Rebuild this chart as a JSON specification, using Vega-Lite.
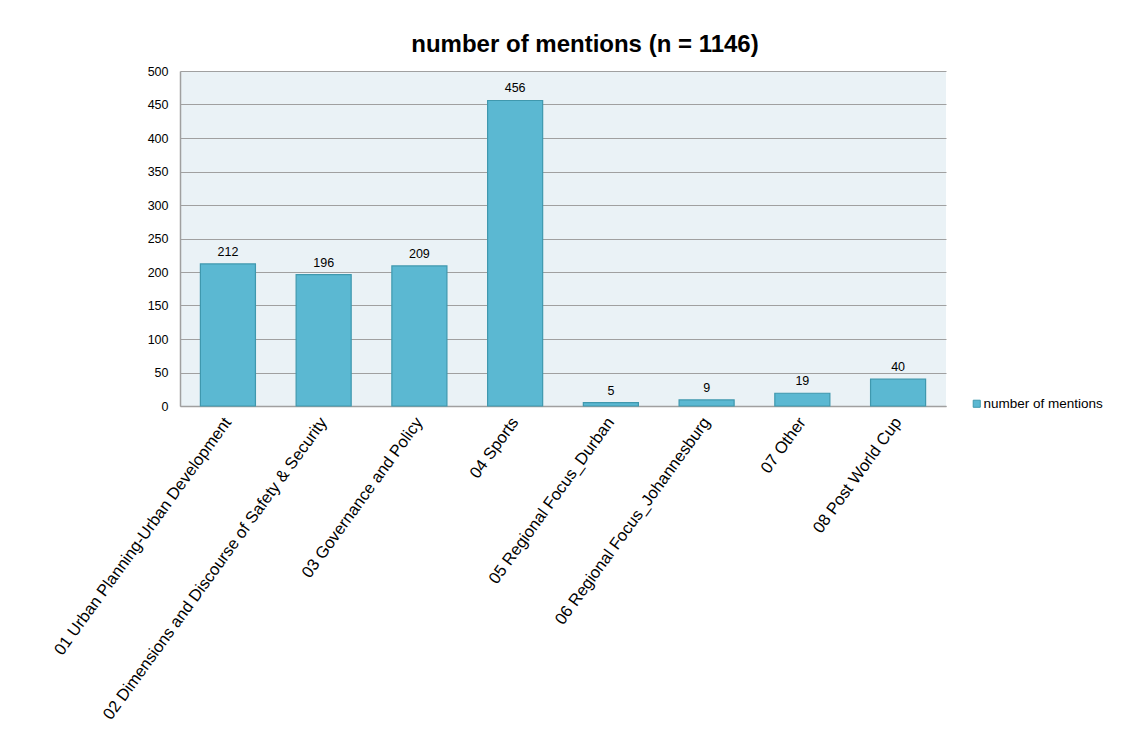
{
  "$schema": "https://vega.github.io/schema/vega-lite/v6.json",
  "autosize": {"type": "none"},
  "padding": {"left": 180, "top": 71, "right": 188, "bottom": 329},
  "width": 766,
  "height": 335,
  "background": "white",
  "title": {
    "text": "number of mentions (n = 1146)",
    "font": "Liberation Sans",
    "fontSize": 24,
    "fontWeight": "bold",
    "color": "#000000",
    "anchor": "middle",
    "dx": 22,
    "offset": 8
  },
  "data": {
    "values": [
      {"category": "01 Urban Planning-Urban Development", "mentions": 212},
      {"category": "02 Dimensions and Discourse of Safety & Security", "mentions": 196},
      {"category": "03 Governance and Policy", "mentions": 209},
      {"category": "04 Sports", "mentions": 456},
      {"category": "05 Regional Focus_Durban", "mentions": 5},
      {"category": "06 Regional Focus_Johannesburg", "mentions": 9},
      {"category": "07 Other", "mentions": 19},
      {"category": "08 Post World Cup", "mentions": 40}
    ]
  },
  "encoding": {
    "x": {
      "field": "category",
      "type": "nominal",
      "sort": null,
      "scale": {"paddingInner": 0.425, "paddingOuter": 0.213},
      "axis": {
        "title": null,
        "labelAngle": -54,
        "labelAlign": "right",
        "labelBaseline": "middle",
        "labelPadding": 13,
        "labelLimit": 0,
        "labelFont": "Liberation Sans",
        "labelFontSize": 16.5,
        "labelColor": "#000000",
        "ticks": false,
        "domainColor": "#a0a0a0",
        "domainWidth": 1.5
      }
    },
    "y": {
      "field": "mentions",
      "type": "quantitative",
      "scale": {"domain": [0, 500], "nice": false},
      "axis": {
        "title": null,
        "values": [0, 50, 100, 150, 200, 250, 300, 350, 400, 450, 500],
        "labelFont": "Liberation Sans",
        "labelFontSize": 12.5,
        "labelColor": "#000000",
        "labelPadding": 12,
        "ticks": false,
        "grid": true,
        "gridColor": "#a0a0a0",
        "gridWidth": 1,
        "domainColor": "#a0a0a0",
        "domainWidth": 1.5
      }
    }
  },
  "layer": [
    {
      "mark": {"type": "bar", "stroke": "#3f98ae", "strokeWidth": 1.2},
      "encoding": {
        "color": {
          "datum": "number of mentions",
          "scale": {"range": ["#5bb8d2"]},
          "legend": {
            "title": null,
            "orient": "none",
            "legendX": 790,
            "legendY": 326,
            "symbolType": "square",
            "symbolSize": 50,
            "symbolStrokeColor": "#3f98ae",
            "symbolStrokeWidth": 1,
            "symbolOpacity": 1,
            "labelFont": "Liberation Sans",
            "labelFontSize": 13.5,
            "labelColor": "#000000",
            "labelOffset": 0
          }
        }
      }
    },
    {
      "mark": {
        "type": "text",
        "dy": -12,
        "font": "Liberation Sans",
        "fontSize": 12.5,
        "color": "#000000"
      },
      "encoding": {"text": {"field": "mentions", "type": "quantitative"}}
    }
  ],
  "config": {
    "view": {"stroke": null, "fill": "#eaf2f6"}
  }
}
